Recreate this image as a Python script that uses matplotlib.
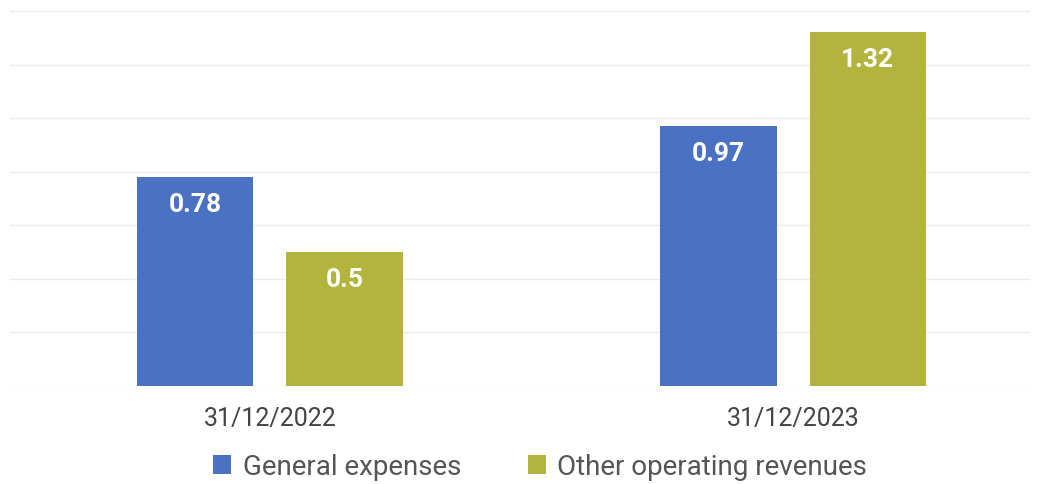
import matplotlib.pyplot as plt
import numpy as np

plt.rcParams['font.family'] = ['Roboto', 'DejaVu Sans']

dates = ["31/12/2022", "31/12/2023"]
general_expenses = [0.78, 0.97]
other_revenues = [0.5, 1.32]

blue = "#4a71c2"
olive = "#b3b43d"

fig = plt.figure(figsize=(10.38, 4.85), dpi=100)
ax = fig.add_axes([10 / 1038, 98 / 485, 1020 / 1038, 375 / 485])

x = np.arange(len(dates))
w = 0.222
off = 0.1425
b1 = ax.bar(x - off, general_expenses, w, color=blue, label="General expenses", zorder=2)
b2 = ax.bar(x + off, other_revenues, w, color=olive, label="Other operating revenues", zorder=2)

# value labels inside the top of each bar
for bars in (b1, b2):
    for rect in bars:
        h = rect.get_height()
        ax.annotate(f"{h:g}", (rect.get_x() + rect.get_width() / 2, h),
                    xytext=(0, -27), textcoords="offset pixels",
                    ha="center", va="center", color="white", fontsize=19, fontweight="bold")

ax.set_xlim(-0.497, 1.453)
ax.set_ylim(0, 1.4)
ax.set_yticks(np.arange(0, 1.41, 0.2))
ax.yaxis.grid(True, color="#ebebeb", linewidth=1, zorder=0)
ax.tick_params(axis="y", left=False, labelleft=False)
ax.tick_params(axis="x", bottom=False, labelsize=18, labelcolor="#444444", pad=11)
ax.set_xticks(x)
ax.set_xticklabels(dates)
for s in ax.spines.values():
    s.set_visible(False)

fig.legend(handles=[b1, b2], loc="center", bbox_to_anchor=(540 / 1038, 17 / 485), ncol=2,
           frameon=False, fontsize=20, labelcolor="#555555", handlelength=0.65,
           handleheight=0.65, handletextpad=0.4, columnspacing=2.4)

fig.savefig("out.png", dpi=100)
